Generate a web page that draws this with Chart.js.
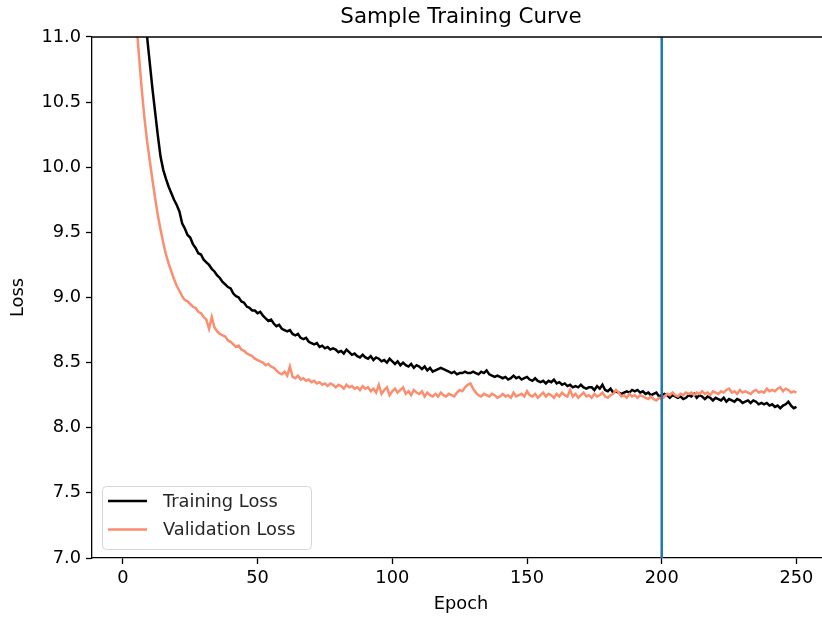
<!DOCTYPE html>
<html>
<head>
<meta charset="utf-8">
<script src="https://cdn.jsdelivr.net/npm/chart.js@4.4.1/dist/chart.umd.min.js"></script>
<style>
    html, body { margin: 0; padding: 0; background: #fff; }
    #wrap { width: 822px; height: 617px; overflow: hidden; }
</style>
</head>
<body>
<div id="wrap">
    <canvas id="trainingCurveChart" width="840" height="617"></canvas>
</div>
<script>
// loss per epoch (epochs 1..250)
const trainLoss = [
    13.80, 13.15, 12.65, 12.25, 11.92, 11.65, 11.42, 11.20, 11.00, 10.80,
    10.60, 10.42, 10.24, 10.08, 9.98, 9.91, 9.85, 9.80, 9.75, 9.71,
    9.66, 9.57, 9.53, 9.48, 9.46, 9.41, 9.38, 9.34, 9.33, 9.29,
    9.27, 9.25, 9.22, 9.20, 9.17, 9.15, 9.12, 9.10, 9.08, 9.07,
    9.03, 9.01, 9.00, 8.97, 8.96, 8.93, 8.92, 8.90, 8.90, 8.88,
    8.89, 8.86, 8.84, 8.82, 8.83, 8.80, 8.78, 8.79, 8.76, 8.75,
    8.74, 8.75, 8.72, 8.71, 8.72, 8.69, 8.68, 8.69, 8.66, 8.65,
    8.64, 8.65, 8.62, 8.63, 8.61, 8.62, 8.60, 8.61, 8.60, 8.58,
    8.59, 8.57, 8.60, 8.58, 8.56, 8.57, 8.55, 8.54, 8.56, 8.54,
    8.53, 8.55, 8.52, 8.54, 8.53, 8.51, 8.52, 8.50, 8.53, 8.51,
    8.49, 8.51, 8.48, 8.50, 8.48, 8.47, 8.49, 8.46, 8.48, 8.47,
    8.45, 8.47, 8.44, 8.46, 8.43, 8.44, 8.45, 8.46, 8.45, 8.44,
    8.43, 8.42, 8.43, 8.41, 8.42, 8.42, 8.43, 8.42, 8.42, 8.43,
    8.42, 8.41, 8.43, 8.42, 8.44, 8.41, 8.40, 8.39, 8.40, 8.39,
    8.38, 8.39, 8.37, 8.38, 8.40, 8.38, 8.39, 8.37, 8.38, 8.39,
    8.37, 8.36, 8.38, 8.36, 8.35, 8.36, 8.34, 8.36, 8.35, 8.37,
    8.34, 8.35, 8.33, 8.34, 8.32, 8.33, 8.31, 8.32, 8.31, 8.33,
    8.31, 8.30, 8.31, 8.31, 8.29, 8.32, 8.30, 8.33, 8.29, 8.28,
    8.30, 8.27, 8.28, 8.27, 8.26, 8.27, 8.28, 8.27, 8.29, 8.28,
    8.29, 8.27, 8.28, 8.26, 8.27, 8.25, 8.26, 8.27, 8.24, 8.25,
    8.26, 8.25, 8.23, 8.25, 8.24, 8.23, 8.24, 8.22, 8.23, 8.25,
    8.24, 8.26, 8.23, 8.25, 8.24, 8.22, 8.24, 8.23, 8.21, 8.23,
    8.22, 8.21, 8.23, 8.20, 8.22, 8.21, 8.20, 8.22, 8.21, 8.19,
    8.20, 8.21, 8.19, 8.21, 8.20, 8.18, 8.19, 8.18, 8.19, 8.17,
    8.18, 8.16, 8.17, 8.15, 8.17, 8.18, 8.20, 8.17, 8.15, 8.16
];

const validLoss = [
    13.50, 12.60, 11.95, 11.45, 11.12, 10.85, 10.60, 10.38, 10.20, 10.05,
    9.90, 9.76, 9.63, 9.52, 9.42, 9.33, 9.26, 9.20, 9.14, 9.09,
    9.05, 9.01, 8.98, 8.97, 8.95, 8.93, 8.92, 8.89, 8.88, 8.85,
    8.83, 8.76, 8.85, 8.77, 8.74, 8.72, 8.71, 8.70, 8.67, 8.66,
    8.64, 8.62, 8.63, 8.60, 8.59, 8.57, 8.56, 8.55, 8.53, 8.52,
    8.51, 8.50, 8.48, 8.49, 8.47, 8.46, 8.44, 8.42, 8.41, 8.43,
    8.40, 8.47, 8.39, 8.38, 8.40, 8.37, 8.38, 8.36, 8.37, 8.35,
    8.36, 8.34, 8.35, 8.33, 8.34, 8.32, 8.34, 8.33, 8.31, 8.33,
    8.32, 8.30, 8.33, 8.31, 8.32, 8.30, 8.31, 8.29, 8.32, 8.30,
    8.31, 8.28, 8.30, 8.27, 8.33, 8.26, 8.29, 8.31, 8.25, 8.28,
    8.30, 8.27, 8.29, 8.31, 8.26, 8.28, 8.25, 8.29, 8.27, 8.26,
    8.28, 8.24, 8.27, 8.25, 8.24, 8.26, 8.24, 8.27, 8.25, 8.24,
    8.26, 8.25, 8.24, 8.27, 8.29, 8.28, 8.31, 8.33, 8.34, 8.30,
    8.27, 8.25, 8.24, 8.26, 8.25, 8.24, 8.26, 8.25, 8.23, 8.24,
    8.26, 8.24, 8.25, 8.23, 8.27, 8.24, 8.25, 8.26, 8.24, 8.28,
    8.25, 8.24, 8.26, 8.23, 8.25, 8.27, 8.24, 8.26, 8.25, 8.23,
    8.26, 8.24, 8.27, 8.25, 8.24, 8.29, 8.24, 8.26, 8.23, 8.25,
    8.27, 8.24, 8.25, 8.23, 8.26, 8.24, 8.25, 8.27, 8.24, 8.23,
    8.25, 8.26, 8.29, 8.27, 8.24, 8.25, 8.23, 8.26, 8.24, 8.25,
    8.23, 8.25, 8.24, 8.23, 8.22, 8.24, 8.22, 8.21, 8.23, 8.22,
    8.24, 8.26, 8.25, 8.27, 8.25, 8.24, 8.26, 8.25, 8.27, 8.26,
    8.27, 8.25, 8.27, 8.26, 8.28, 8.26, 8.27, 8.25, 8.28, 8.27,
    8.26, 8.28, 8.27, 8.29, 8.30, 8.27, 8.28, 8.26, 8.29, 8.27,
    8.28, 8.27, 8.26, 8.28, 8.29, 8.27, 8.28, 8.27, 8.30, 8.28,
    8.29, 8.28, 8.30, 8.31, 8.28, 8.30, 8.29, 8.27, 8.28, 8.27
];

const epochs = trainLoss.map((_, i) => i + 1);
const markerEpoch = 200;
const xTicks = [0, 50, 100, 150, 200, 250];
const yTicks = [7.0, 7.5, 8.0, 8.5, 9.0, 9.5, 10.0, 10.5, 11.0];
const legendOrder = ['Training Loss', 'Validation Loss'];

const FONT = 'DejaVu Sans';

// matplotlib-ish box: top spine (right one is cropped off) + legend in lower left
const framePlugin = {
    id: 'frame',
    afterDraw(chart) {
        const { ctx, chartArea } = chart;
        ctx.save();
        ctx.strokeStyle = '#000';
        ctx.lineWidth = 1.3;
        ctx.beginPath();
        ctx.moveTo(chartArea.left, chartArea.top);
        ctx.lineTo(chartArea.right, chartArea.top);
        ctx.stroke();

        // legend
        const items = legendOrder.map(name => chart.data.datasets.find(d => d.label === name));
        const bx = chartArea.left + 10;
        const bw = 209;
        const bh = 63;
        const by = chartArea.bottom - 9 - bh;
        ctx.fillStyle = 'rgba(255,255,255,0.8)';
        ctx.strokeStyle = 'rgba(204,204,204,0.8)';
        ctx.lineWidth = 1;
        ctx.beginPath();
        ctx.roundRect(bx + 0.5, by + 0.5, bw, bh, 4);
        ctx.fill();
        ctx.stroke();
        ctx.font = '17.8px "' + FONT + '"';
        ctx.textBaseline = 'middle';
        items.forEach((d, i) => {
            const y = by + 15 + i * 28.5;
            ctx.strokeStyle = d.borderColor;
            ctx.lineWidth = d.borderWidth;
            ctx.beginPath();
            ctx.moveTo(bx + 6, y);
            ctx.lineTo(bx + 45, y);
            ctx.stroke();
            ctx.fillStyle = '#262626';
            ctx.fillText(d.label, bx + 61, y + 1);
        });
        ctx.restore();
    }
};

const ctx = document.getElementById('trainingCurveChart').getContext('2d');
const trainingCurveChart = new Chart(ctx, {
    type: 'line',
    data: {
        datasets: [
            {
                label: 'vline',
                data: [{ x: markerEpoch, y: yTicks[0] }, { x: markerEpoch, y: yTicks[yTicks.length - 1] }],
                borderColor: '#1f77b4',
                borderWidth: 2.5,
                pointRadius: 0,
                order: 0,
                clip: 0
            },
            {
                label: 'Validation Loss',
                data: epochs.map((e, i) => ({ x: e, y: validLoss[i] })),
                borderColor: '#fb8e6f',
                borderWidth: 2.5,
                pointRadius: 0,
                order: 1,
                clip: 0
            },
            {
                label: 'Training Loss',
                data: epochs.map((e, i) => ({ x: e, y: trainLoss[i] })),
                borderColor: '#000000',
                borderWidth: 2.5,
                pointRadius: 0,
                order: 2,
                clip: 0
            }
        ]
    },
    options: {
        responsive: false,
        animation: false,
        devicePixelRatio: 1,
        layout: { padding: { left: 0, right: 10, top: 0, bottom: 0 } },
        plugins: {
            legend: { display: false },
            tooltip: { enabled: false },
            title: {
                display: true,
                text: 'Sample Training Curve',
                color: '#000',
                fullSize: false,
                font: { family: FONT, size: 21.4, weight: 'normal' },
                padding: { top: 5, bottom: 6.3 }
            }
        },
        scales: {
            x: {
                type: 'linear',
                min: -11.45,
                max: 262.45,
                afterBuildTicks: (scale) => { scale.ticks = xTicks.map(v => ({ value: v })); },
                afterFit: (scale) => { scale.height = 59; },
                grid: { drawOnChartArea: false, drawTicks: true, tickLength: 6, tickWidth: 1.3, tickColor: '#000' },
                border: { display: true, color: '#000', width: 1.3 },
                ticks: {
                    color: '#000',
                    padding: 4,
                    maxRotation: 0,
                    font: { family: FONT, size: 17.8 },
                    callback: (v) => String(v)
                },
                title: {
                    display: true,
                    text: 'Epoch',
                    color: '#000',
                    font: { family: FONT, size: 17.8 },
                    padding: { top: 0, bottom: 2 }
                }
            },
            y: {
                min: yTicks[0],
                max: yTicks[yTicks.length - 1],
                afterBuildTicks: (scale) => { scale.ticks = yTicks.map(v => ({ value: v })); },
                afterFit: (scale) => { scale.width = 92; },
                grid: { drawOnChartArea: false, drawTicks: true, tickLength: 6, tickWidth: 1.3, tickColor: '#000' },
                border: { display: true, color: '#000', width: 1.3 },
                ticks: {
                    color: '#000',
                    padding: 5,
                    font: { family: FONT, size: 17.8 },
                    callback: (v) => Number(v).toFixed(1)
                },
                title: {
                    display: true,
                    text: 'Loss',
                    color: '#000',
                    font: { family: FONT, size: 17.8 },
                    padding: { top: 8, bottom: 0 }
                }
            }
        }
    },
    plugins: [framePlugin]
});
</script>
</body>
</html>
